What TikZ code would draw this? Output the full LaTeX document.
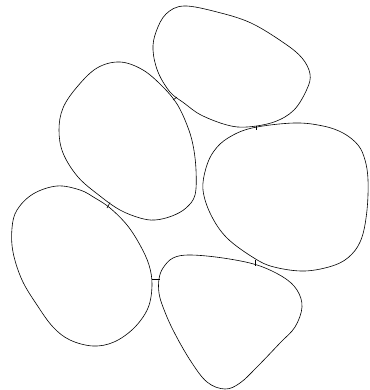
\documentclass[tikz,border=0pt]{standalone}
\begin{document}
\begin{tikzpicture}[x=1pt,y=-1pt,
  blob/.style={draw=black,line width=0.6pt,smooth cycle,tension=0.6},
  link/.style={draw=black,line width=0.6pt}]
\useasboundingbox (0,0) rectangle (369,390);
% A (top)
\draw[line width=0.6pt] plot[smooth cycle,tension=0.6] coordinates {(184,6) (217,12) (251,23) (284,43) (302,58) (310,74) (307,89) (294,110) (274,122) (247,127) (227,125) (201,115) (184,103) (170,92) (158,72) (153,50) (156,32) (166,14)};
% B (upper left)
\draw[line width=0.6pt] plot[smooth cycle,tension=0.6] coordinates {(120,62) (143,70) (163,87) (177,104) (187,125) (193,145) (196,170) (195,195) (186,208) (172,216) (155,220) (140,218) (120,210) (100,196) (78,177) (63,153) (59,130) (63,108) (77,87) (97,68)};
% C (right)
\draw[line width=0.6pt] plot[smooth cycle,tension=0.6] coordinates {(294,123) (323,126) (343,133) (358,145) (365,160) (368,180) (367,210) (362,237) (352,254) (335,265) (305,271) (274,267) (254,258) (227,238) (211,215) (203,190) (206,168) (214,151) (228,138) (252,128)};
% D (lower left)
\draw[line width=0.6pt] plot[smooth cycle,tension=0.6] coordinates {(57,186) (80,190) (95,198) (110,208) (127,225) (140,245) (149,265) (152,285) (148,308) (134,328) (114,342) (93,346) (70,340) (53,327) (37,305) (22,280) (13,252) (12,228) (17,210) (33,194)};
% E (lower right)
\draw[line width=0.6pt] plot[smooth cycle,tension=0.6] coordinates {(190,255) (223,258) (257,265) (283,277) (297,290) (302,307) (295,327) (280,343) (257,367) (240,383) (225,389) (207,382) (190,360) (173,330) (163,307) (159,293) (159,279) (163,268) (173,258)};
% connectors
\coordinate (ab1) at (173,100); \coordinate (ab2) at (177,97);
\coordinate (ac1) at (256,126); \coordinate (ac2) at (256,130);
\coordinate (bd1) at (107,208); \coordinate (bd2) at (110,202.5);
\coordinate (de1) at (152,279.5); \coordinate (de2) at (159.5,279.5);
\coordinate (ce1) at (255,260); \coordinate (ce2) at (255,265.5);
\draw[link] (ab1) -- (ab2);
\draw[link] (ac1) -- (ac2);
\draw[link] (bd1) -- (bd2);
\draw[link] (de1) -- (de2);
\draw[link] (ce1) -- (ce2);
\end{tikzpicture}
\end{document}
